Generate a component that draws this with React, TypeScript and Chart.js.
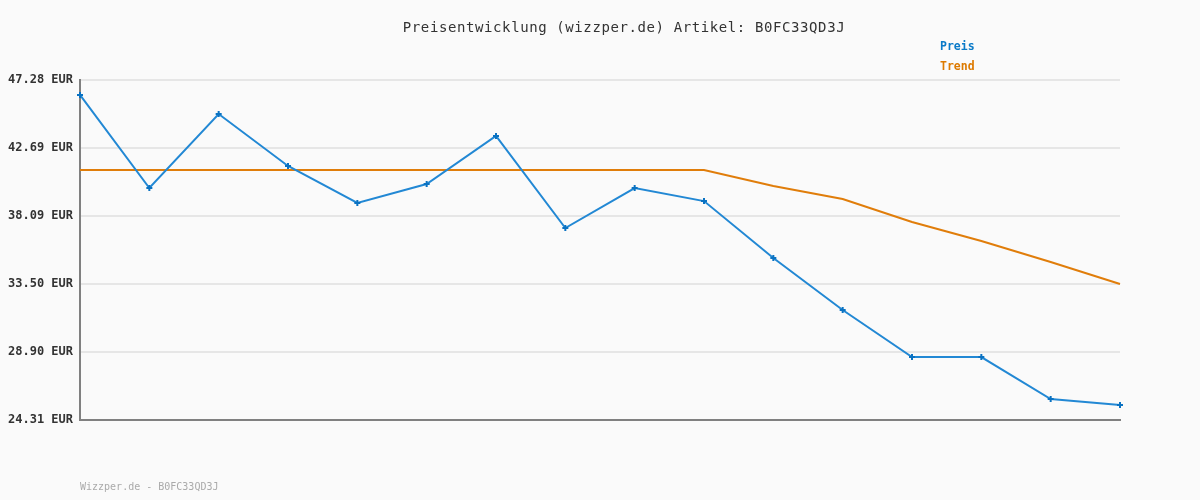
import React, { useEffect, useRef } from "react";
import { Chart, registerables } from "chart.js";

Chart.register(...registerables);

const TITLE = "Preisentwicklung (wizzper.de) Artikel: B0FC33QD3J";
const FOOTER = "Wizzper.de - B0FC33QD3J";
const labels = ["1", "2", "3", "4", "5", "6", "7", "8", "9", "10", "11", "12", "13", "14", "15", "16"];
const preis = [46.27, 39.98, 44.98, 41.47, 38.97, 40.25, 43.5, 37.28, 39.98, 39.1, 35.25, 31.74, 28.56, 28.56, 25.73, 25.32];
const trend = [41.2, 41.2, 41.2, 41.2, 41.2, 41.2, 41.2, 41.2, 41.2, 41.2, 40.12, 39.24, 37.69, 36.4, 34.98, 33.5];
const yTicks = [24.31, 28.9, 33.5, 38.09, 42.69, 47.28];

const MONO = "'DejaVu Sans Mono', 'Liberation Mono', monospace";

const textPlugin = {
  id: "texts",
  afterDraw(chart: any) {
    const ctx = chart.ctx;
    ctx.save();
    ctx.textBaseline = "middle";
    ctx.fillStyle = "#333333";
    ctx.font = `14px ${MONO}`;
    (ctx as any).letterSpacing = "0.6px";
    ctx.textAlign = "center";
    ctx.fillText(TITLE, 624, 28);
    (ctx as any).letterSpacing = "0px";
    ctx.textAlign = "left";
    ctx.font = `bold 11.5px ${MONO}`;
    chart.data.datasets.forEach((ds: any, i: number) => {
      ctx.fillStyle = ds.legendColor;
      ctx.fillText(ds.label, 940, 47 + i * 20);
    });
    ctx.font = `10px ${MONO}`;
    ctx.fillStyle = "#aaaaaa";
    ctx.fillText(FOOTER, 80, 487);
    ctx.restore();
  },
};

const bgPlugin = {
  id: "bg",
  beforeDraw(chart: any) {
    const ctx = chart.ctx;
    ctx.save();
    ctx.fillStyle = "#fafafa";
    ctx.fillRect(0, 0, chart.width, chart.height);
    ctx.restore();
  },
};

export default function App() {
  const ref = useRef<HTMLCanvasElement>(null);
  useEffect(() => {
    document.body.style.margin = "0";
    const chart = new Chart(ref.current!, {
      type: "line",
      data: {
        labels,
        datasets: [
          {
            label: "Preis",
            data: preis,
            borderColor: "#2288d4",
            borderWidth: 2,
            pointStyle: "cross",
            pointRadius: 3,
            pointBorderWidth: 2,
            pointBorderColor: "#0a72c2",
            pointBackgroundColor: "#0a72c2",
            tension: 0,
            legendColor: "#0a7ac8",
          } as any,
          {
            label: "Trend",
            data: trend,
            borderColor: "#e07d0a",
            borderWidth: 2,
            pointRadius: 0,
            tension: 0,
            legendColor: "#dd7a00",
          } as any,
        ],
      },
      options: {
        responsive: false,
        animation: false,
        layout: { padding: { top: 80, right: 80, bottom: 80, left: 0 } },
        plugins: { legend: { display: false }, title: { display: false }, tooltip: { enabled: false } },
        scales: {
          x: {
            offset: false,
            ticks: { display: false },
            grid: { display: false },
            border: { display: true, color: "#808080", width: 2 },
            afterFit: (s: any) => {
              s.height = 0;
            },
          },
          y: {
            min: 24.31,
            max: 47.28,
            afterBuildTicks: (s: any) => {
              s.ticks = yTicks.map((v) => ({ value: v }));
            },
            afterFit: (s: any) => {
              s.width = 80;
            },
            ticks: {
              padding: 7,
              color: "#333333",
              font: { family: MONO, size: 12, weight: "bold" },
              callback: (v: any) => Number(v).toFixed(2) + " EUR",
            },
            grid: { color: "#e6e6e6", lineWidth: 2, drawTicks: false },
            border: { display: true, color: "#808080", width: 2 },
          },
        },
      },
      plugins: [bgPlugin, textPlugin],
    });
    return () => chart.destroy();
  }, []);
  return <canvas ref={ref} width={1200} height={500} style={{ display: "block" }} />;
}
